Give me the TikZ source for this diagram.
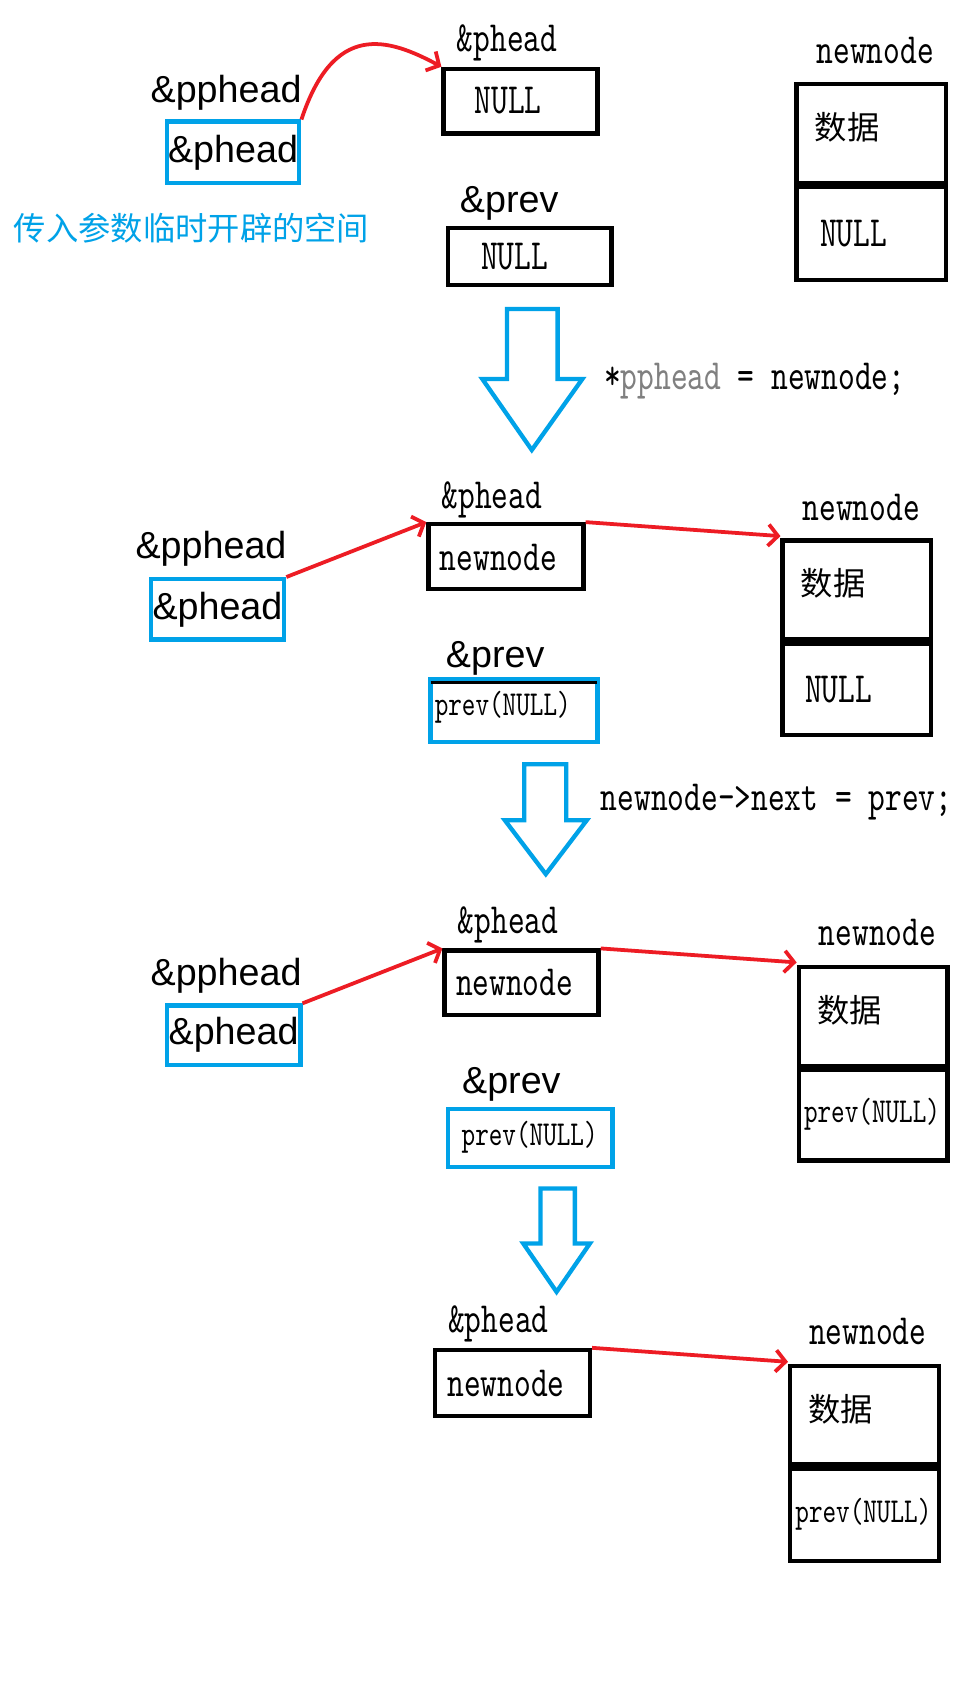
\documentclass[tikz,border=0pt]{standalone}
\usepackage{fontspec}
\usetikzlibrary{arrows.meta}
\newfontfamily\sansf{Liberation Sans}
\newfontfamily\simf[Extension=.otf,FakeStretch=0.74]{lmmono10-regular}
\newfontfamily\cjk{Noto Sans CJK SC}
\definecolor{pblue}{HTML}{00A2E8}
\definecolor{pred}{HTML}{ED1C24}
\definecolor{pgray}{HTML}{808080}
\tikzset{
  boxb/.style={draw=black,line width=4pt,inner sep=0pt},
  boxblue/.style={draw=pblue,line width=4pt,inner sep=0pt},
  sanslab/.style={font=\sansf\fontsize{35}{35}\selectfont,inner sep=0pt},
  simlab/.style={font=\simf\fontsize{40}{40}\selectfont,inner sep=0pt},
  simsmall/.style={font=\simf\fontsize{32.5}{32.5}\selectfont,inner sep=0pt},
  cjklab/.style={font=\cjk\fontsize{30}{30}\selectfont,inner sep=0pt},
  redarr/.style={draw=pred,line width=3.5pt,-{Straight Barb[length=9pt,width=20pt]}},
  bigarrow/.style={draw=pblue,line width=4pt,fill=white,line join=miter},
}
\begin{document}
\begin{tikzpicture}[x=1pt,y=-1pt]
\useasboundingbox[fill=white] (0,0) rectangle (908,1568);

% ---------- Panel 1 ----------
\node[sanslab] (pp1) at (210,86) {\&pphead};
\node[boxblue,minimum width=123pt,minimum height=57pt,sanslab] (ph1) at (216.5,141.5) {\&phead};
\node[cjklab,text=pblue] (note1) at (178,212) {传入参数临时开辟的空间};
\node[simlab] (lh1) at (471,40) {\&phead};
\node[boxb,minimum width=143pt,minimum height=60pt] (nb1) at (483.5,94) {};
\node[simlab] (t_nb1) at (472,93) {NULL};
\node[sanslab] (lp1) at (473,189) {\&prev};
\node[boxb,minimum width=152pt,minimum height=53pt] (pv1) at (492,238.5) {};
\node[simlab] (t_pv1) at (478,238) {NULL};
\node[simlab] (ln1) at (813,47) {newnode};
\node[boxb,minimum width=139pt,minimum height=92pt] (nn1a) at (809.5,124) {};
\node[boxb,minimum width=139pt,minimum height=86pt] (nn1b) at (809.5,217) {};
\node[cjklab] (t_nn1a) at (787,118) {数据};
\node[simlab] (t_nn1b) at (793,217) {NULL};
\draw[redarr] (ph1.north east) .. controls (310,20) and (360,35) .. (nb1.north west);
\draw[bigarrow] (471,287) -- (518,287) -- (518,352) -- (541,352) -- (494,418) -- (448,352) -- (471,352) -- cycle;
\node[simlab,anchor=west] (code1) at (561,354) {*\textcolor{pgray}{pphead} = newnode;};

% ---------- Panel 2 ----------
\node[sanslab] (pp2) at (196,510) {\&pphead};
\node[boxblue,minimum width=124pt,minimum height=56pt,sanslab] (ph2) at (202,566) {\&phead};
\node[simlab] (lh2) at (457,464) {\&phead};
\node[boxb,minimum width=144pt,minimum height=60pt] (nb2) at (470,517) {};
\node[simlab] (t_nb2) at (463,518) {newnode};
\node[sanslab] (lp2) at (460,612) {\&prev};
\node[boxblue,minimum width=155pt,minimum height=58pt] (pv2) at (477.5,660) {};
\draw[line width=3pt] ([shift={(2,5)}]pv2.north west) -- ([shift={(-2,5)}]pv2.north east);
\node[simsmall] (t_pv2) at (467,657) {prev(NULL)};
\node[simlab] (ln2) at (800,471) {newnode};
\node[boxb,minimum width=138pt,minimum height=92pt] (nn2a) at (796,548) {};
\node[boxb,minimum width=138pt,minimum height=85pt] (nn2b) at (796,640.5) {};
\node[cjklab] (t_nn2a) at (774,542) {数据};
\node[simlab] (t_nn2b) at (779,641) {NULL};
\draw[redarr] (ph2.north east) -- (nb2.north west);
\draw[redarr] (nb2.north east) -- ([yshift=2pt]nn2a.north west);
\draw[bigarrow] (487,710) -- (526,710) -- (526,762) -- (545,762) -- (507,812) -- (469,762) -- (487,762) -- cycle;
\node[simlab,anchor=west] (code2) at (558,745) {newnode->next = prev;};

% ---------- Panel 3 ----------
\node[sanslab] (pp3) at (210,906) {\&pphead};
\node[boxblue,minimum width=124pt,minimum height=55pt,sanslab] (ph3) at (217,961.5) {\&phead};
\node[simlab] (lh3) at (472,859) {\&phead};
\node[boxb,minimum width=143pt,minimum height=60pt] (nb3) at (484.5,913) {};
\node[simlab] (t_nb3) at (478,913) {newnode};
\node[sanslab] (lp3) at (475,1007) {\&prev};
\node[boxblue,minimum width=153pt,minimum height=54pt] (pv3) at (492.5,1057) {};
\node[simsmall] (t_pv3) at (492,1056) {prev(NULL)};
\node[simlab] (ln3) at (815,866) {newnode};
\node[boxb,minimum width=138pt,minimum height=92pt] (nn3a) at (811,944) {};
\node[boxb,minimum width=138pt,minimum height=84pt] (nn3b) at (811,1036) {};
\node[cjklab] (t_nn3a) at (789,938) {数据};
\node[simsmall] (t_nn3b) at (810,1035) {prev(NULL)};
\draw[redarr] (ph3.north east) -- (nb3.north west);
\draw[redarr] (nb3.north east) -- ([yshift=2pt]nn3a.north west);
\draw[bigarrow] (502,1104) -- (534,1104) -- (534,1155) -- (548,1155) -- (517,1200) -- (486,1155) -- (502,1155) -- cycle;

% ---------- Panel 4 ----------
\node[simlab] (lh4) at (463,1230) {\&phead};
\node[boxb,minimum width=144pt,minimum height=61pt] (nb4) at (476,1284.5) {};
\node[simlab] (t_nb4) at (470,1285) {newnode};
\node[simlab] (ln4) at (806,1237) {newnode};
\node[boxb,minimum width=138pt,minimum height=91pt] (nn4a) at (803,1314.5) {};
\node[boxb,minimum width=138pt,minimum height=86pt] (nn4b) at (803,1407) {};
\node[cjklab] (t_nn4a) at (781,1309) {数据};
\node[simsmall] (t_nn4b) at (802,1407) {prev(NULL)};
\draw[redarr] (nb4.north east) -- ([yshift=2pt]nn4a.north west);
\end{tikzpicture}
\end{document}
